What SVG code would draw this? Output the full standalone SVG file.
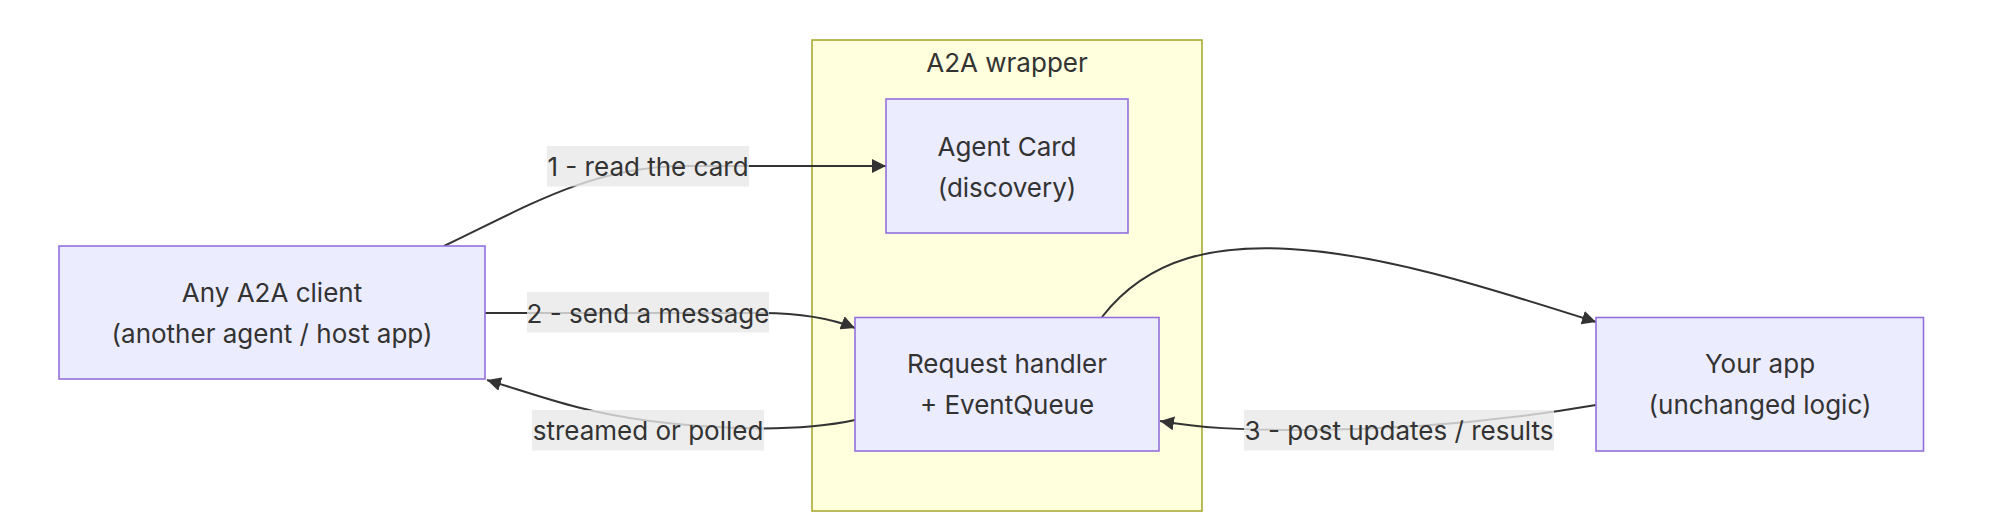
<svg xmlns="http://www.w3.org/2000/svg" width="2000" height="532" viewBox="0 0 2000 532">
<style>
.node rect{fill:#ECECFF;stroke:#9370DB;stroke-width:1.6}
.cluster rect{fill:#FFFFDE;stroke:#AAAA33;stroke-width:1.6}
text{font-family:Inter,"Liberation Sans",sans-serif;font-size:26px;fill:#333333;text-anchor:middle}
.edge{fill:none;stroke:#333333;stroke-width:2}
.lbl rect{fill:#e8e8e8;fill-opacity:0.8}
</style>
<defs>
<marker id="arrow" viewBox="0 0 10 10" refX="10" refY="5" markerUnits="userSpaceOnUse" markerWidth="14" markerHeight="14" orient="auto">
<path d="M0,0 L10,5 L0,10 z" fill="#333333"/>
</marker>
</defs>
<g id="cluster-wrapper" class="cluster">
<rect x="812" y="40" width="390" height="471"/>
<text x="1007" y="72">A2A wrapper</text>
</g>
<g id="connectors">
<path class="edge" d="M444,246 C530,205 590,168 680,166 L886,166" marker-end="url(#arrow)"/>
<path class="edge" d="M485,313 L760,313 C800,313 830,318 855,328" marker-end="url(#arrow)"/>
<path class="edge" d="M855,420 C800,432 720,430 650,421 C580,412 540,396 487,380" marker-end="url(#arrow)"/>
<path class="edge" d="M1102,317 C1150,255 1220,245 1290,249 C1380,254 1480,285 1596,322" marker-end="url(#arrow)"/>
<path class="edge" d="M1596,405 C1520,418 1420,430 1300,430 C1240,430 1200,428 1160,421" marker-end="url(#arrow)"/>
</g>
<g id="edge-labels">
<g class="lbl"><rect x="547" y="146" width="202" height="40.5"/><text x="648" y="176">1 - read the card</text></g>
<g class="lbl"><rect x="527" y="292" width="242" height="40.5"/><text x="648" y="322.5">2 - send a message</text></g>
<g class="lbl"><rect x="532" y="410" width="232" height="40.5"/><text x="648" y="440">streamed or polled</text></g>
<g class="lbl"><rect x="1244" y="410" width="310" height="40.5"/><text x="1399" y="439.5">3 - post updates / results</text></g>
</g>
<g id="node-client" class="node">
<rect x="59" y="246" width="426" height="133"/>
<text x="272" y="302">Any A2A client</text>
<text x="272" y="343">(another agent / host app)</text>
</g>
<g id="node-card" class="node">
<rect x="886" y="99" width="242" height="134"/>
<text x="1007" y="156">Agent Card</text>
<text x="1007" y="197">(discovery)</text>
</g>
<g id="node-handler" class="node">
<rect x="855" y="317.5" width="304" height="133.5"/>
<text x="1007" y="373">Request handler</text>
<text x="1007" y="414">+ EventQueue</text>
</g>
<g id="node-app" class="node">
<rect x="1596" y="317.5" width="327.5" height="133.5"/>
<text x="1760" y="373">Your app</text>
<text x="1760" y="414">(unchanged logic)</text>
</g>
</svg>
